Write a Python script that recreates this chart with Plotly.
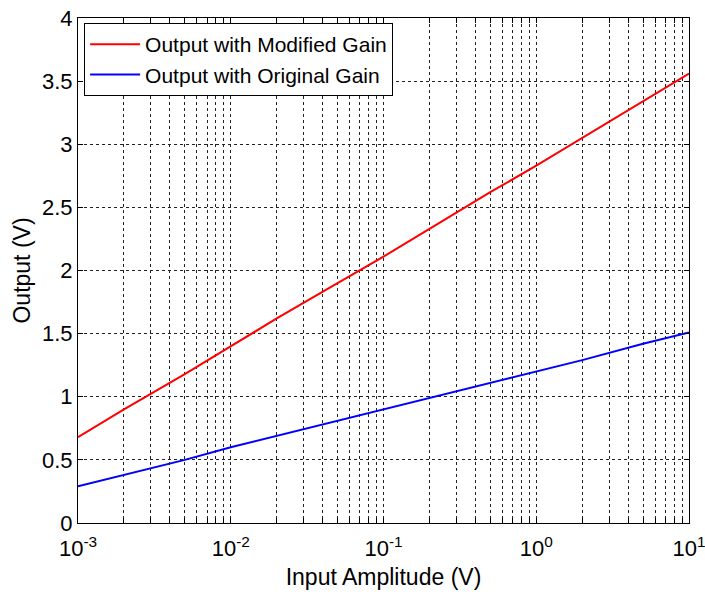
import plotly.graph_objects as go

x_vals = [0.001, 0.002, 0.005, 0.01, 0.02, 0.05, 0.1, 0.2, 0.5, 1, 2, 5, 10]
modified_gain = [0.68, 0.90, 1.18, 1.40, 1.62, 1.90, 2.11, 2.33, 2.62, 2.83, 3.05, 3.34, 3.56]
original_gain = [0.29, 0.38, 0.50, 0.60, 0.69, 0.81, 0.90, 0.99, 1.11, 1.20, 1.29, 1.42, 1.51]

decades = [0.001, 0.01, 0.1, 1]
decade_labels = ["10<sup>-3</sup>", "10<sup>-2</sup>", "10<sup>-1</sup>", "10<sup>0</sup>"]
last_label = "10<sup>1</sup>"
y_tickvals = [0, 0.5, 1, 1.5, 2, 2.5, 3, 3.5, 4]
y_ticktext = ["0", "0.5", "1", "1.5", "2", "2.5", "3", "3.5", "4"]

# major decade ticks with labels, plus unlabeled minor ticks (2..9 in each decade)
x_tickvals, x_ticktext = [], []
for d, lab in zip(decades, decade_labels):
    for m in range(1, 10):
        x_tickvals.append(d * m)
        x_ticktext.append(lab if m == 1 else "")
x_tickvals.append(10)
x_ticktext.append(last_label)

font = "Liberation Sans, Arial, sans-serif"

fig = go.Figure()
fig.add_trace(go.Scatter(x=x_vals, y=modified_gain, mode="lines",
                         name="Output with Modified Gain",
                         line=dict(color="#ff0000", width=2)))
fig.add_trace(go.Scatter(x=x_vals, y=original_gain, mode="lines",
                         name="Output with Original Gain",
                         line=dict(color="#0000ff", width=2)))

grid = dict(gridcolor="#222222", gridwidth=1, griddash="3px,3px")

fig.update_layout(
    width=705, height=595,
    margin=dict(l=78, r=16, t=18, b=72),
    paper_bgcolor="white", plot_bgcolor="white",
    font=dict(family=font, color="black", size=20),
    showlegend=True,
    legend=dict(x=0.01, y=0.99, xanchor="left", yanchor="top",
                bgcolor="white", bordercolor="black", borderwidth=1,
                font=dict(size=21, family=font), tracegroupgap=0,
                itemwidth=50),
    xaxis=dict(type="log", range=[-3, 1.00001], automargin=False,
               tickvals=x_tickvals, ticktext=x_ticktext,
               ticklabeloverflow="allow", ticklabelstandoff=6,
               ticks="inside", ticklen=5, tickcolor="black",
               showline=True, linecolor="black", linewidth=1, mirror="ticks",
               showgrid=True, **grid,
               tickfont=dict(size=22),
               title=dict(text="Input Amplitude (V)", font=dict(size=23), standoff=8),
               zeroline=False),
    yaxis=dict(range=[0, 4], automargin=False,
               tickvals=y_tickvals, ticktext=y_ticktext,
               ticklabeloverflow="allow",
               ticks="inside", ticklen=5, tickcolor="black",
               showline=True, linecolor="black", linewidth=1, mirror="ticks",
               showgrid=True, **grid,
               tickfont=dict(size=22),
               title=dict(text="Output (V)", font=dict(size=23), standoff=4),
               zeroline=False),
)

fig.write_html("out.html", config={"displayModeBar": False},
               post_script="document.body.style.margin='0';document.body.style.overflow='hidden';")
